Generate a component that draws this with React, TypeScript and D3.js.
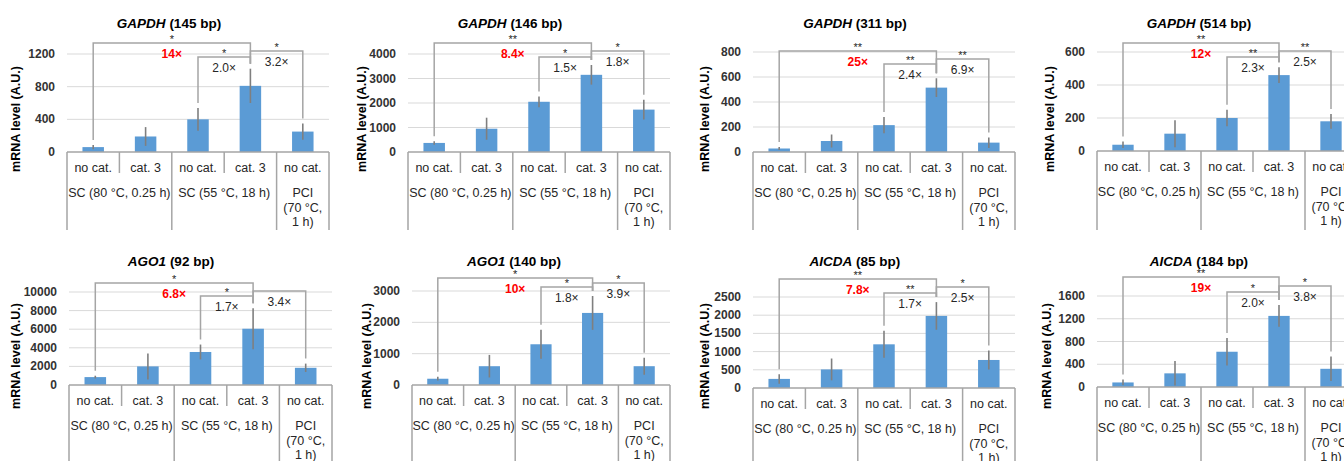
import React from "react";
import * as d3 from "d3";

// ---------- data ----------
const categories = ["no cat.", "cat. 3", "no cat.", "cat. 3", "no cat."];
const groupLabels = [["SC (80 °C, 0.25 h)"], ["SC (55 °C, 18 h)"], ["PCI", "(70 °C,", "1 h)"]];
const groupSpans = [2, 2, 1];

const genes = ["GAPDH", "GAPDH", "GAPDH", "GAPDH", "AGO1", "AGO1", "AICDA", "AICDA"];
const amplicons = ["145 bp", "146 bp", "311 bp", "514 bp", "92 bp", "140 bp", "85 bp", "184 bp"];
const yMaxes = [1200, 4000, 800, 600, 10000, 3000, 2500, 1600];
const yTickSteps = [400, 1000, 200, 200, 2000, 1000, 500, 400];

const meanGAPDH145 = [60, 190, 400, 810, 250];
const errGAPDH145 = [25, 115, 140, 210, 100];
const meanGAPDH146 = [370, 950, 2050, 3150, 1730];
const errGAPDH146 = [70, 450, 220, 400, 400];
const meanGAPDH311 = [28, 88, 215, 515, 75];
const errGAPDH311 = [12, 52, 65, 75, 42];
const meanGAPDH514 = [38, 105, 200, 460, 180];
const errGAPDH514 = [20, 82, 50, 48, 45];
const meanAGO1_92 = [850, 2000, 3550, 6050, 1850];
const errAGO1_92 = [150, 1400, 800, 2200, 450];
const meanAGO1_140 = [200, 600, 1300, 2300, 600];
const errAGO1_140 = [60, 360, 460, 540, 270];
const meanAICDA85 = [250, 510, 1200, 1980, 770];
const errAICDA85 = [130, 300, 370, 380, 260];
const meanAICDA184 = [80, 240, 620, 1250, 320];
const errAICDA184 = [50, 215, 240, 190, 215];

const panelMeans = [meanGAPDH145, meanGAPDH146, meanGAPDH311, meanGAPDH514, meanAGO1_92, meanAGO1_140, meanAICDA85, meanAICDA184];
const panelErrs = [errGAPDH145, errGAPDH146, errGAPDH311, errGAPDH514, errAGO1_92, errAGO1_140, errAICDA85, errAICDA184];

const comparisons = [[0, 3], [2, 3], [3, 4]];
const starsByPanel = [
  ["*", "*", "*"],
  ["**", "*", "*"],
  ["**", "**", "**"],
  ["**", "**", "**"],
  ["*", "*", ""],
  ["*", "*", "*"],
  ["**", "**", "*"],
  ["**", "*", "*"],
];
const foldByPanel = [
  ["14×", "2.0×", "3.2×"],
  ["8.4×", "1.5×", "1.8×"],
  ["25×", "2.4×", "6.9×"],
  ["12×", "2.3×", "2.5×"],
  ["6.8×", "1.7×", "3.4×"],
  ["10×", "1.8×", "3.9×"],
  ["7.8×", "1.7×", "2.5×"],
  ["19×", "2.0×", "3.8×"],
];

// ---------- layout ----------
const layouts = [
  { left: 67, width: 262, y0: 152, yTop: 54, bottom: 230, levels: [43, 57, 51], labelDx: -51, titleY: 23, labelY: 119 },
  { left: 408, width: 262, y0: 152, yTop: 54, bottom: 230, levels: [43, 57, 51], labelDx: -46, titleY: 23, labelY: 119 },
  { left: 753, width: 262, y0: 152, yTop: 52, bottom: 230, levels: [51, 64, 59], labelDx: -48, titleY: 23, labelY: 119 },
  { left: 1097, width: 260, y0: 151, yTop: 52, bottom: 230, levels: [43, 57, 51], labelDx: -47, titleY: 23, labelY: 119 },
  { left: 69, width: 263, y0: 385, yTop: 292, bottom: 470, levels: [283, 296, 291], labelDx: -53, titleY: 261, labelY: 356 },
  { left: 412, width: 258, y0: 385, yTop: 291, bottom: 470, levels: [278, 287, 283], labelDx: -45, titleY: 261, labelY: 356 },
  { left: 753, width: 262, y0: 388, yTop: 297, bottom: 470, levels: [279, 293, 287], labelDx: -48, titleY: 261, labelY: 356 },
  { left: 1097, width: 260, y0: 387, yTop: 296, bottom: 470, levels: [277, 292, 286], labelDx: -50, titleY: 261, labelY: 356 },
];

const FONT = "'Liberation Sans', Arial, Helvetica, sans-serif";
const BAR = "#5b9bd5";
const LINE = "#a5a5a5";
const GRID = "#d9d9d9";
const TEXT = "#262626";

function Panel({ i }: { i: number }) {
  const L = layouts[i];
  const mean = panelMeans[i];
  const err = panelErrs[i];
  const y = d3.scaleLinear().domain([0, yMaxes[i]]).range([L.y0, L.yTop]);
  const x = d3.scaleBand<number>().domain(d3.range(categories.length)).range([L.left, L.left + L.width]).padding(0);
  const step = x.bandwidth();
  const bw = step * 0.41;
  const cx = (k: number) => (x(k) as number) + step / 2;
  const ticks = d3.range(0, yMaxes[i] + 1e-9, yTickSteps[i]);
  const legEnd = (k: number) => y(mean[k] + err[k]) - 5;
  const right = L.left + L.width;

  // group boundaries
  const bounds: number[] = [0];
  groupSpans.forEach((s) => bounds.push(bounds[bounds.length - 1] + s));

  return (
    <g>
      {/* title */}
      <text x={L.left + 102} y={L.titleY} textAnchor="middle" dominantBaseline="central" fontSize={13.5} fontWeight="bold" fill="#000">
        <tspan fontStyle="italic">{genes[i]}</tspan>
        <tspan>{` (${amplicons[i]})`}</tspan>
      </text>
      {/* y label */}
      <text
        transform={`translate(${L.left + L.labelDx},${L.labelY}) rotate(-90)`}
        textAnchor="middle"
        dominantBaseline="central"
        fontSize={12.5}
        fontWeight="bold"
        fill="#000"
      >
        mRNA level (A.U.)
      </text>
      {/* grid + ticks */}
      {ticks.map((t) => (
        <g key={t}>
          {t > 0 && <line x1={L.left} x2={right} y1={y(t)} y2={y(t)} stroke={GRID} strokeWidth={1} />}
          <text x={L.left - 12} y={y(t)} textAnchor="end" dominantBaseline="central" fontSize={12} fontWeight="bold" fill="#333">
            {t}
          </text>
        </g>
      ))}
      {/* bars */}
      {mean.map((v, k) => (
        <rect key={k} x={cx(k) - bw / 2} y={y(v)} width={bw} height={L.y0 - y(v)} fill={BAR} />
      ))}
      {/* error bars */}
      {mean.map((v, k) => (
        <line key={k} x1={cx(k)} x2={cx(k)} y1={y(v + err[k])} y2={y(Math.max(0, v - err[k]))} stroke="#7f7f7f" strokeWidth={1.6} />
      ))}
      {/* table */}
      <line x1={L.left} x2={right} y1={L.y0} y2={L.y0} stroke={LINE} strokeWidth={1.5} />
      {d3.range(categories.length + 1).map((b) => {
        const bx = b < categories.length ? (x(b) as number) : right;
        const full = bounds.includes(b);
        return <line key={b} x1={bx} x2={bx} y1={L.y0} y2={full ? L.bottom : L.y0 + 21} stroke={LINE} strokeWidth={1.5} />;
      })}
      {categories.map((c, k) => (
        <text key={k} x={cx(k)} y={L.y0 + 16} textAnchor="middle" dominantBaseline="central" fontSize={12.5} fill={TEXT}>
          {c}
        </text>
      ))}
      {groupLabels.map((lines, g) => {
        const s = bounds[g];
        const e = bounds[g + 1];
        const gx = ((x(s) as number) + ((e < categories.length ? (x(e) as number) : right))) / 2;
        return lines.map((ln, li) => (
          <text key={`${g}-${li}`} x={gx} y={L.y0 + 41 + li * 14.5} textAnchor="middle" dominantBaseline="central" fontSize={12.5} fill={TEXT}>
            {ln}
          </text>
        ));
      })}
      {/* significance brackets */}
      {comparisons.map(([a, b], c) => {
        const lv = L.levels[c];
        const mx = (cx(a) + cx(b)) / 2;
        return (
          <g key={c}>
            <path d={`M${cx(a)},${legEnd(a)}V${lv}H${cx(b)}V${legEnd(b)}`} fill="none" stroke={LINE} strokeWidth={1.5} />
            {starsByPanel[i][c] && (
              <text x={mx} y={lv} textAnchor="middle" fontSize={11} fill={TEXT}>
                {starsByPanel[i][c]}
              </text>
            )}
            <text
              x={mx}
              y={lv + 11}
              textAnchor="middle"
              dominantBaseline="central"
              fontSize={12}
              fontWeight={c === 0 ? "bold" : "normal"}
              fill={c === 0 ? "#ff0000" : TEXT}
            >
              {foldByPanel[i][c]}
            </text>
          </g>
        );
      })}
    </g>
  );
}

export default function App() {
  return (
    <svg
      width={1344}
      height={461}
      viewBox="0 0 1344 461"
      style={{ position: "absolute", left: 0, top: 0, display: "block", background: "#fff" }}
      fontFamily={FONT}
    >
      <rect x={0} y={0} width={1344} height={461} fill="#fff" />
      {layouts.map((_, i) => (
        <Panel key={i} i={i} />
      ))}
    </svg>
  );
}
